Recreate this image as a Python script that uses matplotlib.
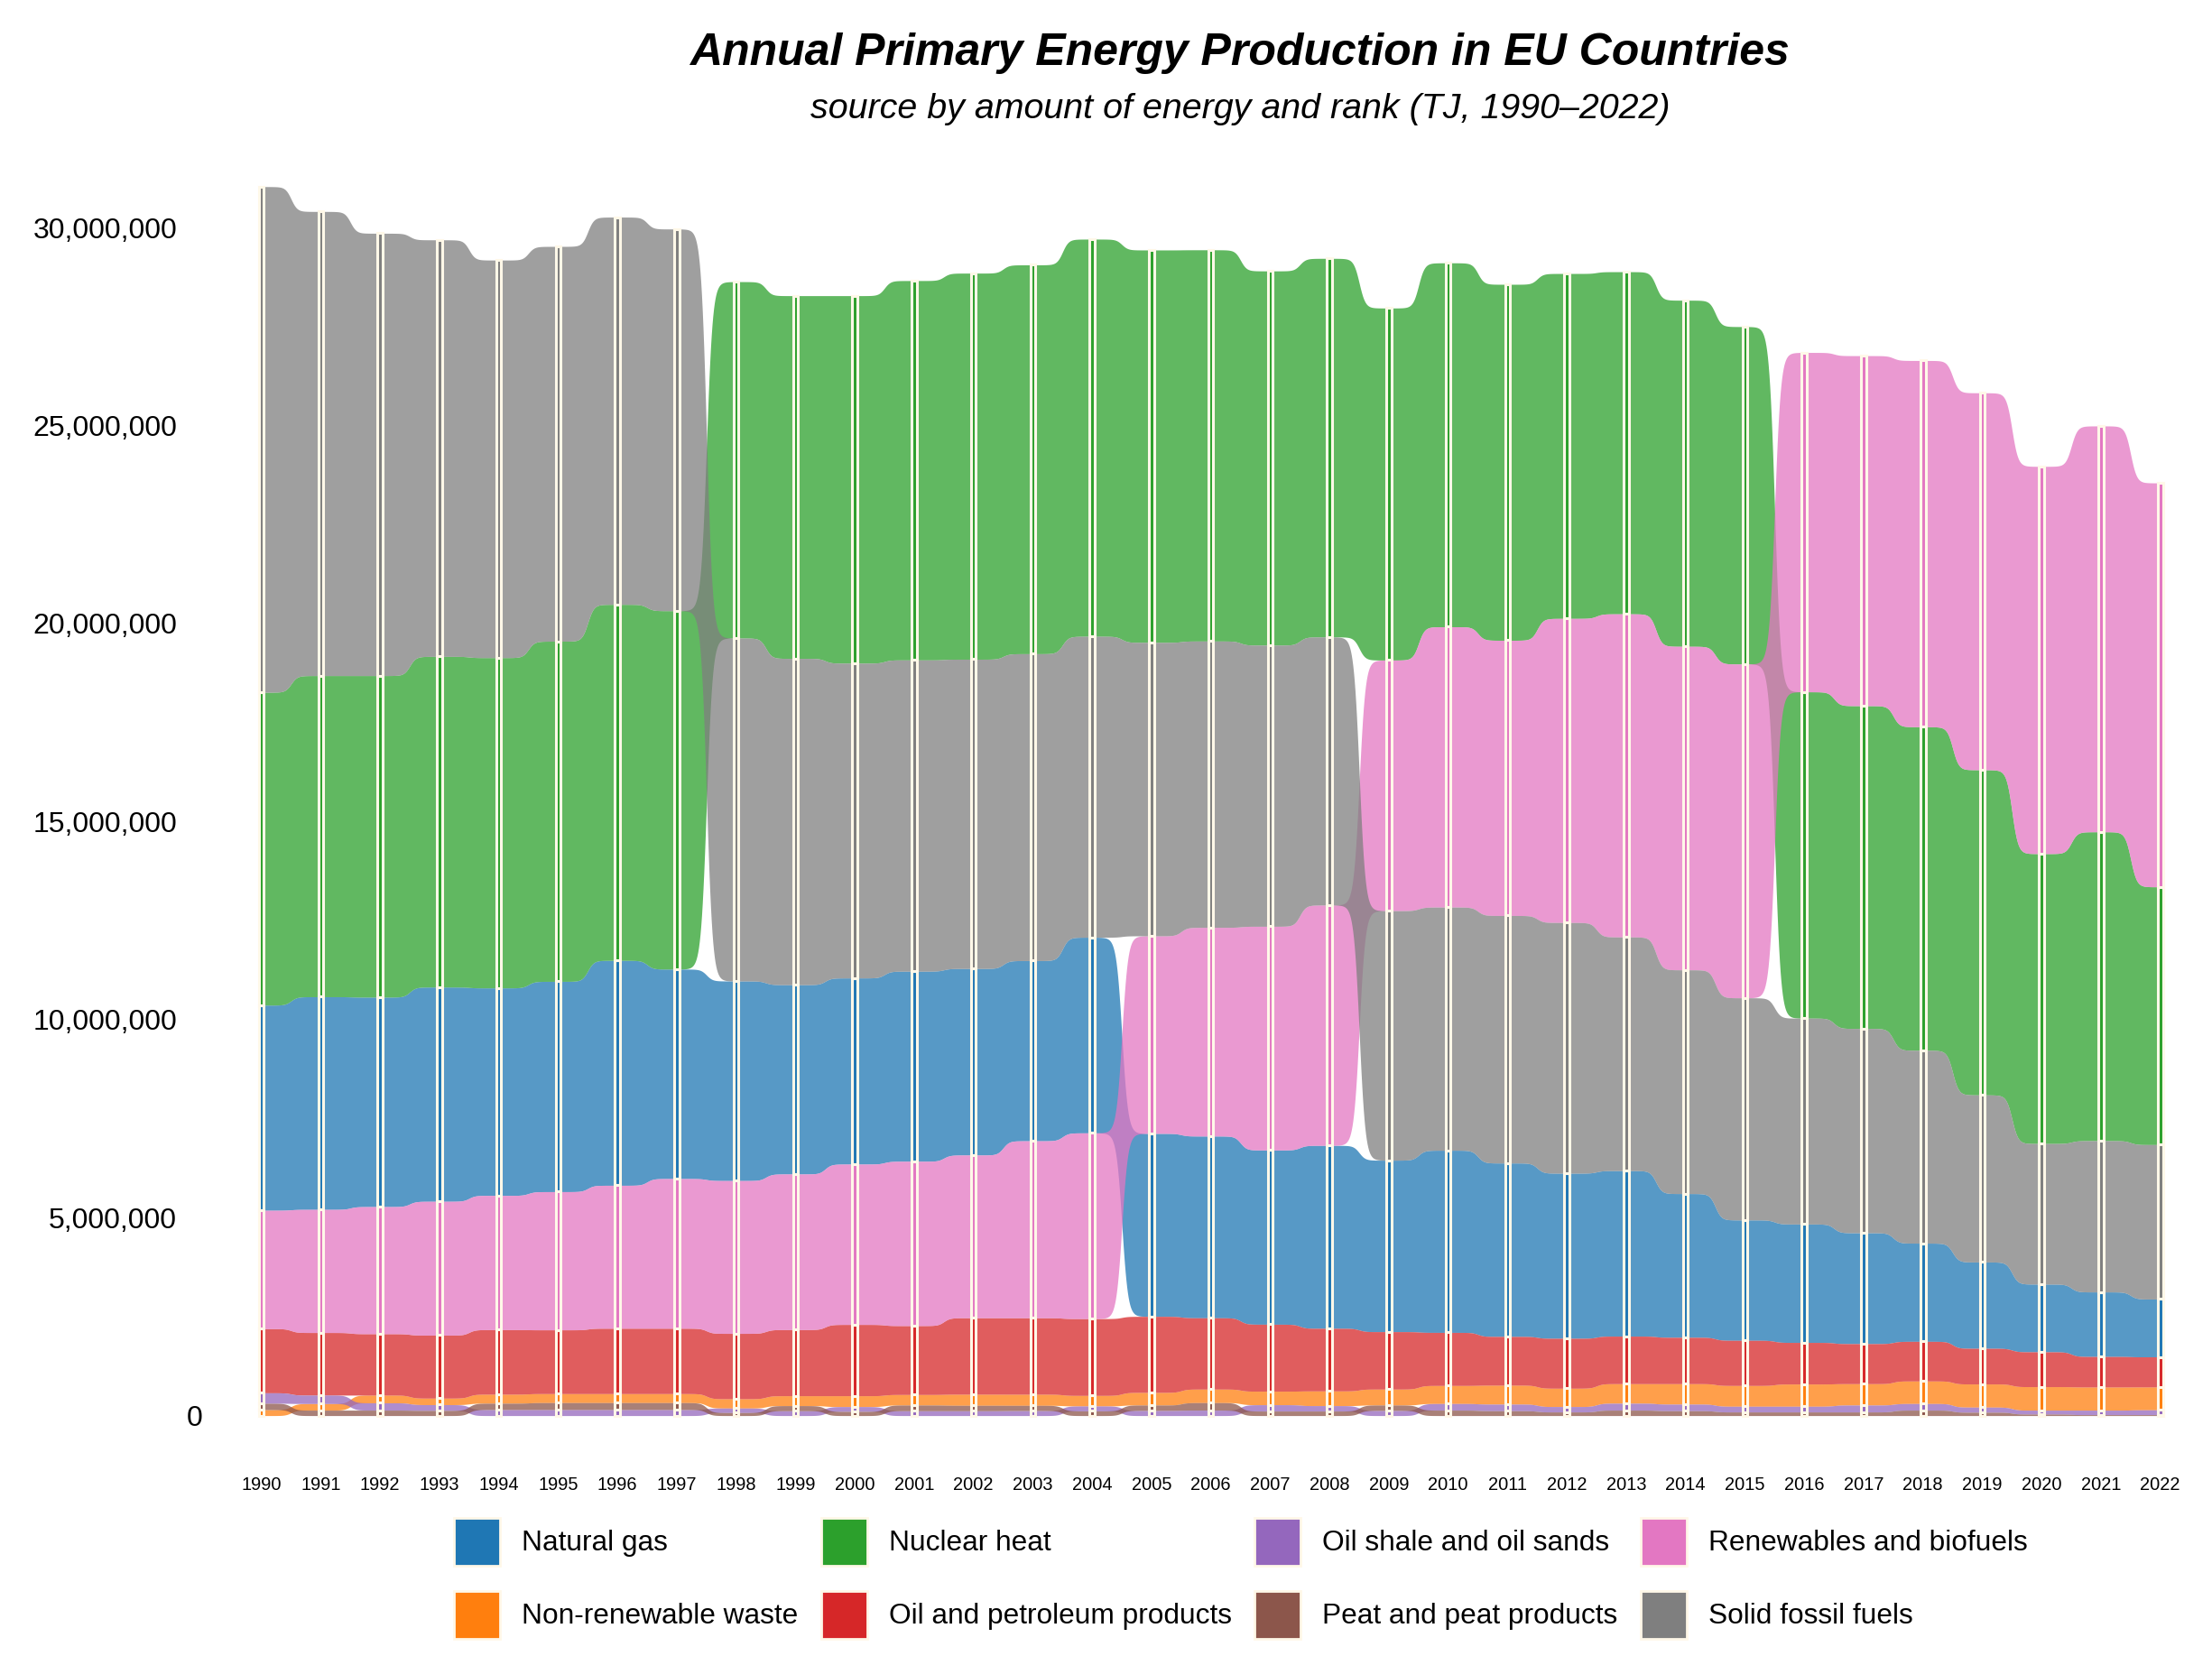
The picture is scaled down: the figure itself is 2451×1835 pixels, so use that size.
import matplotlib
matplotlib.use("Agg")
import matplotlib.pyplot as plt
import matplotlib.transforms as mtransforms
from matplotlib.patches import Patch
import numpy as np

plt.rcParams['font.family'] = ['Liberation Sans', 'DejaVu Sans']

years = list(range(1990, 2023))

categories = ["Natural gas", "Non-renewable waste", "Nuclear heat",
              "Oil and petroleum products", "Oil shale and oil sands",
              "Peat and peat products", "Renewables and biofuels",
              "Solid fossil fuels"]
colors = ["#1f77b4", "#ff7f0e", "#2ca02c", "#d62728",
          "#9467bd", "#8c564b", "#e377c2", "#7f7f7f"]

# production per source, thousand TJ
natural_gas = [5180, 5370, 5290, 5410, 5240, 5310, 5680, 5290, 5040, 4780, 4700,
               4800, 4710, 4550, 4940, 4620, 4590, 4400, 4620, 4330, 4600, 4380,
               4170, 4180, 3630, 3040, 2990, 2800, 2480, 2180, 1710, 1630, 1460]
waste = [150, 167, 195, 165, 228, 228, 228, 228, 235, 250, 274,
         266, 281, 281, 266, 319, 342, 342, 372, 403, 456, 479,
         463, 494, 517, 525, 562, 540, 570, 585, 593, 585, 578]
nuclear = [7900, 8110, 8120, 8350, 8340, 8590, 8990, 9050, 9000, 9160, 9280,
           9580, 9750, 9820, 10030, 9910, 9880, 9450, 9560, 8890, 9190, 8990,
           8710, 8640, 8740, 8520, 8240, 8150, 8170, 8210, 7320, 7800, 6510]
oil = [1620, 1580, 1550, 1590, 1630, 1610, 1650, 1650, 1650, 1670, 1800,
       1740, 1930, 1930, 1940, 1920, 1800, 1690, 1580, 1450, 1340, 1230,
       1260, 1200, 1170, 1140, 1050, 1010, 1000, 900, 880, 770, 760]
oil_shale = [265, 213, 185, 146, 152, 152, 152, 152, 114, 122, 122,
             122, 122, 126, 125, 130, 137, 160, 137, 130, 167, 167,
             137, 175, 167, 144, 144, 175, 167, 129, 99, 114, 122]
peat = [160, 137, 137, 130, 160, 175, 175, 175, 76, 129, 105,
        144, 137, 132, 118, 136, 190, 114, 114, 136, 137, 122,
        91, 137, 122, 91, 91, 91, 137, 84, 38, 23, 23]
renewables = [2990, 3110, 3210, 3380, 3390, 3490, 3610, 3780, 3860, 3930, 4050,
              4150, 4110, 4470, 4690, 4990, 5270, 5650, 6070, 6330, 7080, 6950,
              7680, 8160, 8170, 8430, 8570, 8840, 9250, 9520, 9780, 10250, 10200]
solid_fossil = [12770, 11720, 11170, 10520, 10040, 9970, 9780, 9640, 8660, 8240, 7950,
                7860, 7810, 7750, 7600, 7410, 7230, 7100, 6770, 6300, 6140, 6250,
                6330, 5900, 5650, 5610, 5200, 5160, 4870, 4220, 3550, 3820, 3900]

vals = np.array([natural_gas, waste, nuclear, oil, oil_shale, peat,
                 renewables, solid_fossil], dtype=float) * 1000
yrs = np.array(years, dtype=float)

# rank stacking: smallest source at the bottom in every year
bottoms = np.zeros_like(vals)
tops = np.zeros_like(vals)
for j in range(len(years)):
    cum = 0.0
    for i in np.argsort(vals[:, j], kind="stable"):
        bottoms[i, j] = cum
        cum += vals[i, j]
        tops[i, j] = cum


def sigmoid_path(x, y, smooth=10, n=80):
    t = np.linspace(0, 1, n)
    s = 1 / (1 + np.exp(-smooth * (2 * t - 1)))
    s = (s - s[0]) / (s[-1] - s[0])
    xs, ys = [], []
    for a in range(len(x) - 1):
        xs.append(x[a] + (x[a + 1] - x[a]) * t)
        ys.append(y[a] + (y[a + 1] - y[a]) * s)
    return np.concatenate(xs), np.concatenate(ys)


cream = "#FFF8E8"
fig = plt.figure(figsize=(2451 / 200, 1835 / 200), dpi=200)
ax = fig.add_axes([0.1128, 0.1404, 0.8692, 0.770])

for i, c in enumerate(colors):
    xs, lo = sigmoid_path(yrs, bottoms[i])
    _, hi = sigmoid_path(yrs, tops[i])
    ax.fill_between(xs, lo, hi, color=c, alpha=0.75, linewidth=0, zorder=2)
    ax.bar(yrs, vals[i], bottom=bottoms[i], width=0.085, color=c,
           edgecolor=cream, linewidth=1.1, zorder=3)

ax.set_xlim(1989.8, 2022.2)
ax.set_ylim(-0.2e6, 32e6)
for sp in ax.spines.values():
    sp.set_visible(False)

yt = np.arange(0, 30000001, 5000000)
ax.set_yticks(yt)
ax.set_yticklabels([f"{v:,}" for v in yt])
ax.set_xticks(years)
ax.set_xticklabels([str(y) for y in years])
ax.tick_params(axis="y", length=0, pad=28.9, labelsize=11.5)
ax.tick_params(axis="x", length=0, pad=21, labelsize=7.2)
zero_lab = ax.get_yticklabels()[0]
zero_lab.set_transform(zero_lab.get_transform() +
                       mtransforms.ScaledTranslation(28 / 200, 0, fig.dpi_scale_trans))

fig.text(0.5605, 0.968, "Annual Primary Energy Production in EU Countries",
         ha="center", va="center", fontsize=18, fontweight="bold", fontstyle="italic")
fig.text(0.5605, 0.934, "source by amount of energy and rank (TJ, 1990\u20132022)",
         ha="center", va="center", fontsize=14.2, fontstyle="italic")

handles = [Patch(facecolor=c, edgecolor=cream, linewidth=1.0) for c in colors]
fig.legend(handles, categories, ncol=4, loc="upper left",
           bbox_to_anchor=(0.2052, 0.0834), frameon=False, fontsize=11.4,
           handlelength=1.62, handleheight=2.18, handletextpad=0.75,
           columnspacing=0.8, labelspacing=0.9, borderpad=0, borderaxespad=0)

fig.savefig("out.png", dpi=200)
